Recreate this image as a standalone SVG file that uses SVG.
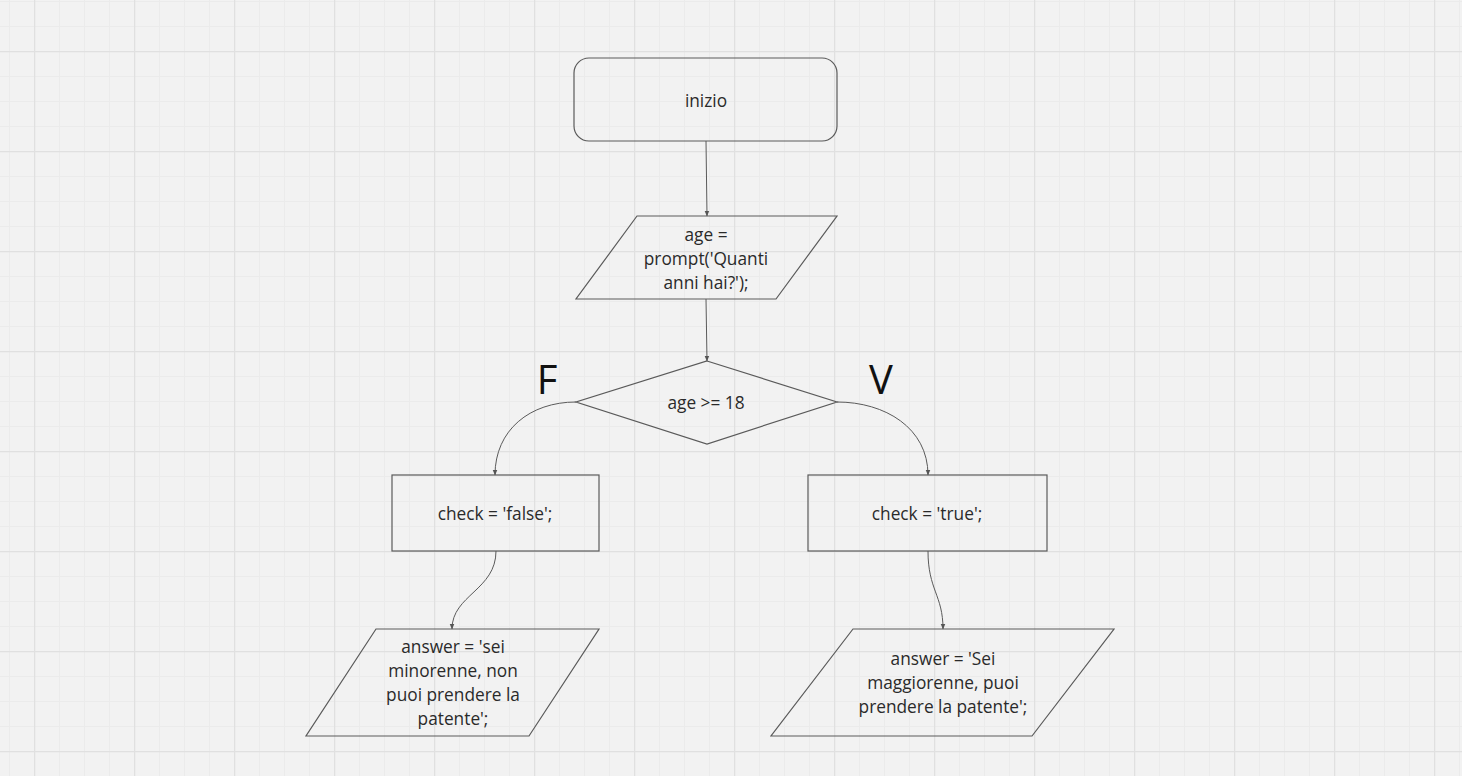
<svg xmlns="http://www.w3.org/2000/svg" width="1462" height="776" viewBox="0 0 1462 776">
<defs>
<pattern id="minor" x="9" y="1" width="25" height="25" patternUnits="userSpaceOnUse">
<path d="M0.5,0 V25 M0,0.5 H25" stroke="#ebebeb" stroke-width="1" fill="none"/>
</pattern>
<pattern id="major" x="34" y="51" width="100" height="100" patternUnits="userSpaceOnUse">
<path d="M0.5,0 V100 M0,0.5 H100" stroke="#e0e0e0" stroke-width="1.5" fill="none"/>
</pattern>
<marker id="arr" viewBox="0 0 10 10" refX="9" refY="5" markerWidth="6" markerHeight="6" orient="auto" markerUnits="userSpaceOnUse">
<path d="M0,1 L10,5 L0,9 z" fill="#555"/>
</marker>
<style>
.shape{fill:none;stroke:#5a5a5a;stroke-width:1.2}
.lbl{font-family:"Open Sans","Liberation Sans",sans-serif;font-size:17.3px;fill:#2a2a2a;text-anchor:middle}
.big{font-family:"Open Sans","Liberation Sans",sans-serif;font-size:40px;fill:#111;text-anchor:middle}
.conn{fill:none;stroke:#5a5a5a;stroke-width:1;marker-end:url(#arr)}
</style>
</defs>
<rect width="1462" height="776" fill="#f2f2f2"/>
<rect width="1462" height="776" fill="url(#minor)"/>
<rect width="1462" height="776" fill="url(#major)"/>

<g id="connectors">
<path class="conn" d="M706,141 L707,216"/>
<path class="conn" d="M706,299 L707,361"/>
<path class="conn" d="M576,402 C530,402 495,430 495,475"/>
<path class="conn" d="M837,402 C885,402 928,428 928,475"/>
<path class="conn" d="M496,551 C496,590 452,595 452,629"/>
<path class="conn" d="M928,551 C928,590 943,595 943,629"/>
</g>

<g id="start">
<rect class="shape" x="574" y="58" width="263" height="83" rx="15"/>
<text class="lbl" x="706" y="107">inizio</text>
</g>

<g id="input-age">
<polygon class="shape" points="637,216 837,216 776,299 576,299"/>
<text class="lbl" x="706" y="241">age =</text>
<text class="lbl" x="706" y="265">prompt('Quanti</text>
<text class="lbl" x="706" y="289">anni hai?');</text>
</g>

<g id="decision">
<polygon class="shape" points="707,361 837,402 707,444 576,402"/>
<text class="lbl" x="706" y="409">age &gt;= 18</text>
</g>

<g id="label-F"><text class="big" x="547" y="394">F</text></g>
<g id="label-V"><text class="big" x="881" y="394">V</text></g>

<g id="check-false">
<rect class="shape" x="392" y="475" width="207" height="76"/>
<text class="lbl" x="495" y="520">check = 'false';</text>
</g>

<g id="check-true">
<rect class="shape" x="808" y="475" width="239" height="76"/>
<text class="lbl" x="927" y="520">check = 'true';</text>
</g>

<g id="answer-false">
<polygon class="shape" points="376,629 599,629 529,736 306,736"/>
<text class="lbl" x="453" y="653">answer = 'sei</text>
<text class="lbl" x="453" y="677">minorenne, non</text>
<text class="lbl" x="453" y="701">puoi prendere la</text>
<text class="lbl" x="453" y="725">patente';</text>
</g>

<g id="answer-true">
<polygon class="shape" points="853,629 1114,629 1032,736 771,736"/>
<text class="lbl" x="943" y="665">answer = 'Sei</text>
<text class="lbl" x="943" y="689">maggiorenne, puoi</text>
<text class="lbl" x="943" y="713">prendere la patente';</text>
</g>
</svg>
